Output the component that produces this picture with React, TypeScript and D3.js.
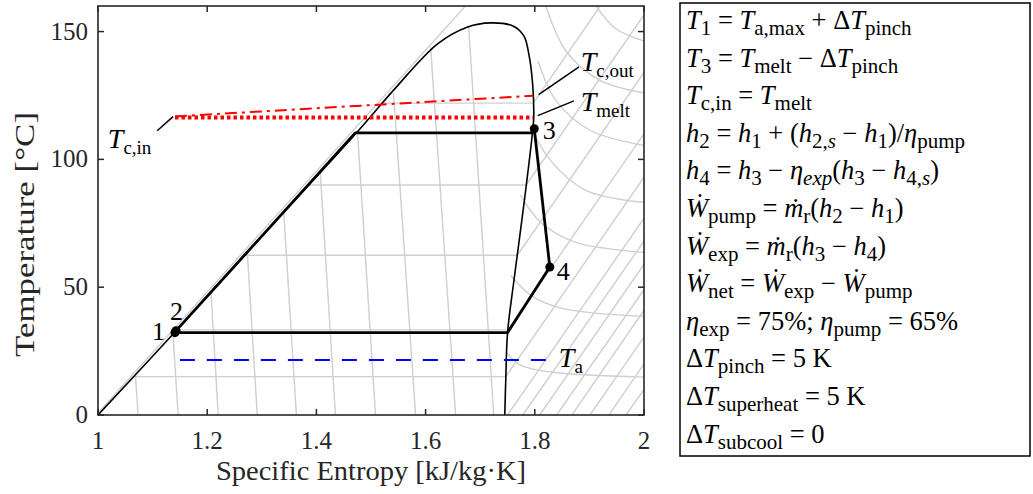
import React from "react";
import * as d3 from "d3";

// axis ticks
const xTicks = [1, 1.2, 1.4, 1.6, 1.8, 2];
const yTicks = [0, 50, 100, 150];

// saturation dome: liquid side up to the top, then vapour side down
const domeS = [1.0, 1.141, 1.3, 1.48, 1.541, 1.622, 1.677, 1.719, 1.76, 1.78, 1.789, 1.796, 1.798, 1.796, 1.781, 1.762, 1.75, 1.747, 1.745];
const domeT = [0, 32.5, 70, 112, 127, 145.2, 151.8, 153.4, 152.2, 148.3, 141.3, 129.6, 116.3, 111, 84, 53, 32, 15, 0];

// ORC cycle 1 -> 2 -> evaporation -> 3 -> 4 -> condensation -> 1
const cycleS = [1.141, 1.143, 1.4716, 1.795, 1.799, 1.8275, 1.75, 1.141];
const cycleT = [32.2, 33.0, 110.4, 110.4, 112, 57.9, 32.2, 32.2];
const stateNames = ["1", "2", "3", "4"];
const stateS = [1.141, 1.143, 1.799, 1.8275];
const stateT = [32.2, 33.0, 112, 57.9];

// heat source / sink temperatures
const meltS = [1.141, 1.797];
const meltT = [116.4, 116.4];
const coolantS = [1.141, 1.797];
const coolantT = [116.8, 124.9];
const ambientS = [1.15, 1.829];
const ambientT = [21.5, 21.5];

// background isobars: horizontal in the dome, rising in the superheated region
const isobarT = [15, 33.3, 62.5, 90, 122];
const isobarSL = [1.064, 1.143, 1.268, 1.386, 1.523];
const isobarSV = [1.747, 1.751, 1.768, 1.784, 1.797];
const isobarEndS = [2, 2, 2, 2, 1.92];
const isobarEndT = [93, 110, 134, 156.5, 160];
// low pressure isobars entering through the bottom axis
const lowIsobarS = [1.75, 1.778, 1.809, 1.84, 1.868, 1.901, 1.936, 1.967];
const lowIsobarEndT = [77, 68, 59, 49, 41, 30.5, 20, 10];
// compressed-liquid isobars hugging the liquid line
const liquidIsoS = [1.0, 1.673];
const liquidIsoT = [0.8, 160];

// isenthalps inside the dome
const hTopS = [1.0684, 1.1371, 1.2069, 1.2734, 1.3402, 1.407, 1.4752, 1.5413, 1.6092, 1.6789];
const hTopT = [16.0, 32.3, 48.3, 63.8, 79.4, 95.0, 110.9, 126.0, 144.0, 151.8];
const hBotS = [1.0734, 1.1468, 1.2202, 1.2917, 1.3633, 1.4349, 1.5083, 1.5817, 1.655, 1.7248];

// isenthalps in the superheated region
const vapourIsenthalps: [number, number][][] = [
  [[1.747, 24.6], [1.774, 19.5], [1.829, 16.8], [2.0, 14.8]],
  [[1.756, 54.6], [1.793, 46.8], [1.848, 41.8], [2.0, 38.6]],
  [[1.774, 85.9], [1.811, 75.3], [1.875, 67.5], [2.0, 63.6]],
  [[1.794, 112], [1.829, 99.5], [1.894, 87.8], [2.0, 83.1]],
  [[1.806, 138.5], [1.839, 122.9], [1.903, 111.2], [2.0, 105.4]],
  [[1.82, 160], [1.857, 142.4], [1.921, 130.7], [2.0, 126]],
  [[1.912, 160], [1.949, 151], [2.0, 146.3]],
];

type Seg = { t: string; it?: boolean; sub?: boolean };
const eqLines: Seg[][] = [
  [{ t: "T", it: true }, { t: "1", sub: true }, { t: " = " }, { t: "T", it: true }, { t: "a,max", sub: true }, { t: " + Δ" }, { t: "T", it: true }, { t: "pinch", sub: true }],
  [{ t: "T", it: true }, { t: "3", sub: true }, { t: " = " }, { t: "T", it: true }, { t: "melt", sub: true }, { t: " − Δ" }, { t: "T", it: true }, { t: "pinch", sub: true }],
  [{ t: "T", it: true }, { t: "c,in", sub: true }, { t: " = " }, { t: "T", it: true }, { t: "melt", sub: true }],
  [{ t: "h", it: true }, { t: "2", sub: true }, { t: " = " }, { t: "h", it: true }, { t: "1", sub: true }, { t: " + (" }, { t: "h", it: true }, { t: "2,", sub: true }, { t: "s", sub: true, it: true }, { t: " − " }, { t: "h", it: true }, { t: "1", sub: true }, { t: ")/" }, { t: "η", it: true }, { t: "pump", sub: true }],
  [{ t: "h", it: true }, { t: "4", sub: true }, { t: " = " }, { t: "h", it: true }, { t: "3", sub: true }, { t: " − " }, { t: "η", it: true }, { t: "exp", sub: true, it: true }, { t: "(" }, { t: "h", it: true }, { t: "3", sub: true }, { t: " − " }, { t: "h", it: true }, { t: "4,", sub: true }, { t: "s", sub: true, it: true }, { t: ")" }],
  [{ t: "Ẇ", it: true }, { t: "pump", sub: true }, { t: " = " }, { t: "ṁ", it: true }, { t: "r", sub: true }, { t: "(" }, { t: "h", it: true }, { t: "2", sub: true }, { t: " − " }, { t: "h", it: true }, { t: "1", sub: true }, { t: ")" }],
  [{ t: "Ẇ", it: true }, { t: "exp", sub: true }, { t: " = " }, { t: "ṁ", it: true }, { t: "r", sub: true }, { t: "(" }, { t: "h", it: true }, { t: "3", sub: true }, { t: " − " }, { t: "h", it: true }, { t: "4", sub: true }, { t: ")" }],
  [{ t: "Ẇ", it: true }, { t: "net", sub: true }, { t: " = " }, { t: "Ẇ", it: true }, { t: "exp", sub: true }, { t: " − " }, { t: "Ẇ", it: true }, { t: "pump", sub: true }],
  [{ t: "η", it: true }, { t: "exp", sub: true }, { t: " = 75%; " }, { t: "η", it: true }, { t: "pump", sub: true }, { t: " = 65%" }],
  [{ t: "Δ" }, { t: "T", it: true }, { t: "pinch", sub: true }, { t: " = 5 K" }],
  [{ t: "Δ" }, { t: "T", it: true }, { t: "superheat", sub: true }, { t: " = 5 K" }],
  [{ t: "Δ" }, { t: "T", it: true }, { t: "subcool", sub: true }, { t: " = 0" }],
];

const zip = (s: number[], t: number[]) => s.map((v, i) => [v, t[i]] as [number, number]);

const SERIF = "'Liberation Serif', 'DejaVu Serif', serif";
const GREY = "#cfcfcf";

function EqLine({ segs, x, y }: { segs: Seg[]; x: number; y: number }) {
  let shift = 0;
  return (
    <text x={x} y={y} fontFamily={SERIF} fontSize={26.5} fill="#000">
      {segs.map((s, i) => {
        const target = s.sub ? 6 : 0;
        const dy = target - shift;
        shift = target;
        return (
          <tspan key={i} dy={dy} fontSize={s.sub ? 21 : 26.5} fontStyle={s.it ? "italic" : "normal"} style={{ whiteSpace: "pre" }}>
            {s.t}
          </tspan>
        );
      })}
    </text>
  );
}

function Label({ main, sub, x, y }: { main: string; sub: string; x: number; y: number }) {
  return (
    <text x={x} y={y} fontFamily={SERIF} fontSize={28}>
      <tspan fontStyle="italic">{main}</tspan>
      <tspan fontSize={19} dy={6}>{sub}</tspan>
    </text>
  );
}

export default function App() {
  const W = 1033;
  const H = 494;
  const x = d3.scaleLinear().domain([1, 2]).range([98, 644]);
  const y = d3.scaleLinear().domain([0, 160]).range([415, 6]);
  const line = d3.line<[number, number]>().x((d) => x(d[0])).y((d) => y(d[1]));
  const smooth = d3.line<[number, number]>().x((d) => x(d[0])).y((d) => y(d[1])).curve(d3.curveCatmullRom.alpha(0.5));

  const [x0, x1] = x.range();
  const [yb, yt] = y.range();

  return (
    <svg width={W} height={H} style={{ position: "absolute", left: 0, top: 0, background: "#fff" }}>
      <defs>
        <clipPath id="plot">
          <rect x={x0} y={yt} width={x1 - x0} height={yb - yt} />
        </clipPath>
      </defs>
      <rect width={W} height={H} fill="#fff" />
      <g clipPath="url(#plot)" fill="none">
        {/* grey property lines */}
        <g stroke={GREY} strokeWidth={1.4}>
          <path d={line(zip(liquidIsoS, liquidIsoT))!} />
          {isobarT.map((t, i) => (
            <path key={"ib" + i} d={line([[isobarSL[i], t], [isobarSV[i], t], [isobarEndS[i], isobarEndT[i]]])!} />
          ))}
          {lowIsobarS.map((s, i) => (
            <path key={"lb" + i} d={line([[s, 0], [2, lowIsobarEndT[i]]])!} />
          ))}
          {hTopS.map((s, i) => (
            <path key={"hd" + i} d={line([[s, hTopT[i]], [hBotS[i], 0]])!} />
          ))}
          {vapourIsenthalps.map((c, i) => (
            <path key={"hv" + i} d={smooth(c)!} />
          ))}
        </g>
        {/* saturation dome */}
        <path d={smooth(zip(domeS, domeT))!} stroke="#000" strokeWidth={1.6} />
        {/* melt and coolant */}
        <path d={line(zip(coolantS, coolantT))!} stroke="#ff0000" strokeWidth={2} strokeDasharray="12 5 3 5" />
        <path d={line(zip(meltS, meltT))!} stroke="#ff0000" strokeWidth={4} strokeDasharray="3.5 3" />
        <path d={line(zip(ambientS, ambientT))!} stroke="#0000ff" strokeWidth={2} strokeDasharray="15 12" />
        {/* cycle */}
        <path d={line(zip(cycleS, cycleT))!} stroke="#000" strokeWidth={2.8} strokeLinejoin="round" />
        {stateS.map((s, i) => (
          <circle key={stateNames[i]} cx={x(s)} cy={y(stateT[i])} r={4.5} fill="#000" />
        ))}
      </g>

      {/* leader lines */}
      <g stroke="#000" strokeWidth={1.5}>
        <line x1={x(1.1376)} y1={y(116.7)} x2={x(1.1083)} y2={y(111.2)} />
        <line x1={x(1.807)} y1={y(125.3)} x2={x(1.881)} y2={y(136.2)} />
        <line x1={x(1.8055)} y1={y(117.1)} x2={x(1.8716)} y2={y(122.9)} />
      </g>
      <Label main="T" sub="c,in" x={x(1.018)} y={y(104.6)} />
      <Label main="T" sub="c,out" x={x(1.884)} y={y(134.6)} />
      <Label main="T" sub="melt" x={x(1.884)} y={y(119)} />
      <Label main="T" sub="a" x={x(1.844)} y={y(18.7)} />
      <g fontFamily={SERIF} fontSize={26}>
        <text x={x(1.099)} y={y(29.3)}>1</text>
        <text x={x(1.132)} y={y(37.1)}>2</text>
        <text x={x(1.8147)} y={y(108.1)}>3</text>
        <text x={x(1.84)} y={y(52.7)}>4</text>
      </g>

      {/* frame and ticks */}
      <rect x={x0} y={yt} width={x1 - x0} height={yb - yt} fill="none" stroke="#262626" strokeWidth={1.6} />
      <g stroke="#262626" strokeWidth={1.5}>
        {xTicks.map((t) => (
          <g key={"xt" + t}>
            <line x1={x(t)} x2={x(t)} y1={yb} y2={yb - 6} />
            <line x1={x(t)} x2={x(t)} y1={yt} y2={yt + 6} />
          </g>
        ))}
        {yTicks.map((t) => (
          <g key={"yt" + t}>
            <line x1={x0} x2={x0 + 6} y1={y(t)} y2={y(t)} />
            <line x1={x1} x2={x1 - 6} y1={y(t)} y2={y(t)} />
          </g>
        ))}
      </g>
      <g fontFamily={SERIF} fontSize={25} fill="#262626">
        {xTicks.map((t) => (
          <text key={"xl" + t} x={x(t)} y={yb + 34} textAnchor="middle">
            {d3.format("~g")(t)}
          </text>
        ))}
        {yTicks.map((t) => (
          <text key={"yl" + t} x={x0 - 10} y={y(t) + 8} textAnchor="end">
            {t}
          </text>
        ))}
      </g>
      <text x={(x0 + x1) / 2} y={480} textAnchor="middle" fontFamily={SERIF} fontSize={27} fill="#262626" textLength={310} lengthAdjust="spacingAndGlyphs">
        Specific Entropy [kJ/kg·K]
      </text>
      <text transform={`translate(34,${(yt + yb) / 2 + 24}) rotate(-90)`} textAnchor="middle" fontFamily={SERIF} fontSize={27} fill="#262626" textLength={245} lengthAdjust="spacingAndGlyphs">
        Temperature [°C]
      </text>

      {/* assumptions box */}
      <rect x={680} y={3} width={350} height={453} fill="none" stroke="#000" strokeWidth={1.5} />
      {eqLines.map((segs, i) => (
        <EqLine key={i} segs={segs} x={686} y={29 + i * 37.6} />
      ))}
    </svg>
  );
}
